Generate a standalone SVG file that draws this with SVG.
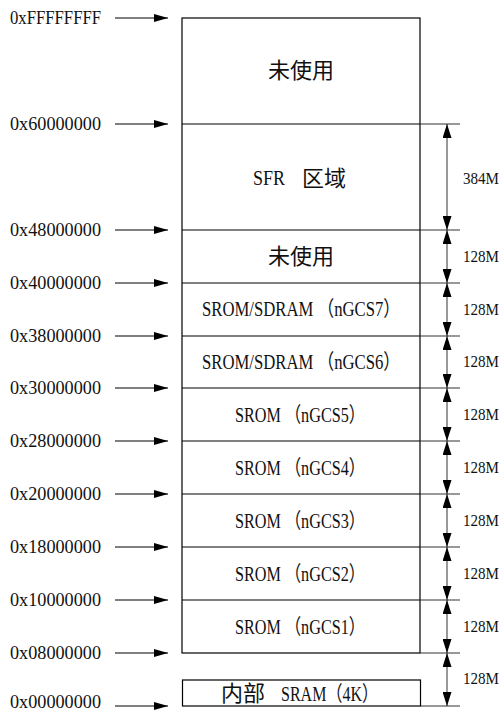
<svg xmlns="http://www.w3.org/2000/svg" width="502" height="712" viewBox="0 0 502 712">
<style>
.box{fill:#fff;stroke:#000;stroke-width:1.2}
.sep{stroke:#000;stroke-width:1.2;fill:none}
.ext{stroke:#333;stroke-width:1;fill:none}
.lat{font-family:"Liberation Serif","Noto Sans CJK SC",serif;font-size:21px;fill:#111}
.cjk{font-family:"Noto Sans CJK SC",sans-serif;font-size:22px;fill:#111}
.addr{font-family:"Liberation Serif",serif;font-size:18.5px;fill:#111}
.size{font-family:"Liberation Serif",serif;font-size:16.5px;fill:#111}
.arr{stroke:#000;stroke-width:1.2;fill:none;marker-end:url(#ah)}
.dim{stroke:#333;stroke-width:1;fill:none;marker-start:url(#dh);marker-end:url(#dh)}
</style>
<defs>
<marker id="ah" markerUnits="userSpaceOnUse" markerWidth="14" markerHeight="8" refX="14" refY="4" orient="auto">
<path d="M0,0 L14,4 L0,8 z" fill="#000"/>
</marker>
<marker id="dh" markerUnits="userSpaceOnUse" markerWidth="14" markerHeight="9" refX="14" refY="4.5" orient="auto-start-reverse">
<path d="M0,0 L14,4.5 L0,9 z" fill="#000"/>
</marker>
</defs>

<g id="memory-map">
<rect class="box" x="182" y="18" width="238" height="635"/>
</g>

<g id="unused-top">
<text class="cjk" x="301" y="78" text-anchor="middle">未使用</text>
</g>
<g id="sfr">
<line class="sep" x1="182" y1="124" x2="420" y2="124"/>
<line class="ext" x1="420" y1="124" x2="460" y2="124"/>
<text class="lat" x="253" y="185" textLength="32" lengthAdjust="spacingAndGlyphs">SFR</text>
<text class="cjk" x="302" y="186">区域</text>
</g>
<g id="unused-mid">
<line class="sep" x1="182" y1="230" x2="420" y2="230"/>
<line class="ext" x1="420" y1="230" x2="460" y2="230"/>
<text class="cjk" x="301" y="264" text-anchor="middle">未使用</text>
</g>
<g id="ngcs7">
<line class="sep" x1="182" y1="283" x2="420" y2="283"/>
<line class="ext" x1="420" y1="283" x2="460" y2="283"/>
<text class="lat" x="202" y="316" textLength="198" lengthAdjust="spacingAndGlyphs">SROM/SDRAM （nGCS7）</text>
</g>
<g id="ngcs6">
<line class="sep" x1="182" y1="336" x2="420" y2="336"/>
<line class="ext" x1="420" y1="336" x2="460" y2="336"/>
<text class="lat" x="202" y="369" textLength="198" lengthAdjust="spacingAndGlyphs">SROM/SDRAM （nGCS6）</text>
</g>
<g id="ngcs5">
<line class="sep" x1="182" y1="388" x2="420" y2="388"/>
<line class="ext" x1="420" y1="388" x2="460" y2="388"/>
<text class="lat" x="235" y="422" textLength="130" lengthAdjust="spacingAndGlyphs">SROM （nGCS5）</text>
</g>
<g id="ngcs4">
<line class="sep" x1="182" y1="441" x2="420" y2="441"/>
<line class="ext" x1="420" y1="441" x2="460" y2="441"/>
<text class="lat" x="235" y="475" textLength="130" lengthAdjust="spacingAndGlyphs">SROM （nGCS4）</text>
</g>
<g id="ngcs3">
<line class="sep" x1="182" y1="494" x2="420" y2="494"/>
<line class="ext" x1="420" y1="494" x2="460" y2="494"/>
<text class="lat" x="235" y="528" textLength="130" lengthAdjust="spacingAndGlyphs">SROM （nGCS3）</text>
</g>
<g id="ngcs2">
<line class="sep" x1="182" y1="547" x2="420" y2="547"/>
<line class="ext" x1="420" y1="547" x2="460" y2="547"/>
<text class="lat" x="235" y="581" textLength="130" lengthAdjust="spacingAndGlyphs">SROM （nGCS2）</text>
</g>
<g id="ngcs1">
<line class="sep" x1="182" y1="600" x2="420" y2="600"/>
<line class="ext" x1="420" y1="600" x2="460" y2="600"/>
<text class="lat" x="235" y="634" textLength="130" lengthAdjust="spacingAndGlyphs">SROM （nGCS1）</text>
</g>
<g id="bottom-edge">
<line class="ext" x1="420" y1="653" x2="460" y2="653"/>
</g>
<g id="sram">
<rect class="box" x="182.5" y="680" width="238" height="26"/>
<line class="ext" x1="420.5" y1="706" x2="460" y2="706"/>
<text class="cjk" x="221" y="701">内部</text>
<text class="lat" x="281" y="701" textLength="97" lengthAdjust="spacingAndGlyphs">SRAM（4K）</text>
</g>

<g id="addresses">
<text class="addr" x="10" y="24" textLength="91" lengthAdjust="spacingAndGlyphs">0xFFFFFFFF</text>
<text class="addr" x="10" y="130" textLength="91" lengthAdjust="spacingAndGlyphs">0x60000000</text>
<text class="addr" x="10" y="236" textLength="91" lengthAdjust="spacingAndGlyphs">0x48000000</text>
<text class="addr" x="10" y="289" textLength="91" lengthAdjust="spacingAndGlyphs">0x40000000</text>
<text class="addr" x="10" y="342" textLength="91" lengthAdjust="spacingAndGlyphs">0x38000000</text>
<text class="addr" x="10" y="394" textLength="91" lengthAdjust="spacingAndGlyphs">0x30000000</text>
<text class="addr" x="10" y="447" textLength="91" lengthAdjust="spacingAndGlyphs">0x28000000</text>
<text class="addr" x="10" y="500" textLength="91" lengthAdjust="spacingAndGlyphs">0x20000000</text>
<text class="addr" x="10" y="553" textLength="91" lengthAdjust="spacingAndGlyphs">0x18000000</text>
<text class="addr" x="10" y="606" textLength="91" lengthAdjust="spacingAndGlyphs">0x10000000</text>
<text class="addr" x="10" y="659" textLength="91" lengthAdjust="spacingAndGlyphs">0x08000000</text>
<text class="addr" x="10" y="708" textLength="91" lengthAdjust="spacingAndGlyphs">0x00000000</text>
</g>

<g id="sizes">
<text class="size" x="463" y="184" textLength="36" lengthAdjust="spacingAndGlyphs">384M</text>
<text class="size" x="463" y="262" textLength="36" lengthAdjust="spacingAndGlyphs">128M</text>
<text class="size" x="463" y="315" textLength="36" lengthAdjust="spacingAndGlyphs">128M</text>
<text class="size" x="463" y="367" textLength="36" lengthAdjust="spacingAndGlyphs">128M</text>
<text class="size" x="463" y="420" textLength="36" lengthAdjust="spacingAndGlyphs">128M</text>
<text class="size" x="463" y="473" textLength="36" lengthAdjust="spacingAndGlyphs">128M</text>
<text class="size" x="463" y="526" textLength="36" lengthAdjust="spacingAndGlyphs">128M</text>
<text class="size" x="463" y="579" textLength="36" lengthAdjust="spacingAndGlyphs">128M</text>
<text class="size" x="463" y="632" textLength="36" lengthAdjust="spacingAndGlyphs">128M</text>
<text class="size" x="463" y="684" textLength="36" lengthAdjust="spacingAndGlyphs">128M</text>
</g>

<g id="connectors">
<line class="arr" x1="115" y1="18" x2="168" y2="18"/>
<line class="arr" x1="115" y1="124" x2="168" y2="124"/>
<line class="arr" x1="115" y1="230" x2="168" y2="230"/>
<line class="arr" x1="115" y1="283" x2="168" y2="283"/>
<line class="arr" x1="115" y1="336" x2="168" y2="336"/>
<line class="arr" x1="115" y1="388" x2="168" y2="388"/>
<line class="arr" x1="115" y1="441" x2="168" y2="441"/>
<line class="arr" x1="115" y1="494" x2="168" y2="494"/>
<line class="arr" x1="115" y1="547" x2="168" y2="547"/>
<line class="arr" x1="115" y1="600" x2="168" y2="600"/>
<line class="arr" x1="115" y1="653" x2="168" y2="653"/>
<line class="arr" x1="115" y1="706" x2="168" y2="706"/>
<line class="dim" x1="447" y1="124" x2="447" y2="230"/>
<line class="dim" x1="447" y1="230" x2="447" y2="283"/>
<line class="dim" x1="447" y1="283" x2="447" y2="336"/>
<line class="dim" x1="447" y1="336" x2="447" y2="388"/>
<line class="dim" x1="447" y1="388" x2="447" y2="441"/>
<line class="dim" x1="447" y1="441" x2="447" y2="494"/>
<line class="dim" x1="447" y1="494" x2="447" y2="547"/>
<line class="dim" x1="447" y1="547" x2="447" y2="600"/>
<line class="dim" x1="447" y1="600" x2="447" y2="653"/>
<line class="dim" x1="447" y1="653" x2="447" y2="706"/>
</g>
</svg>
